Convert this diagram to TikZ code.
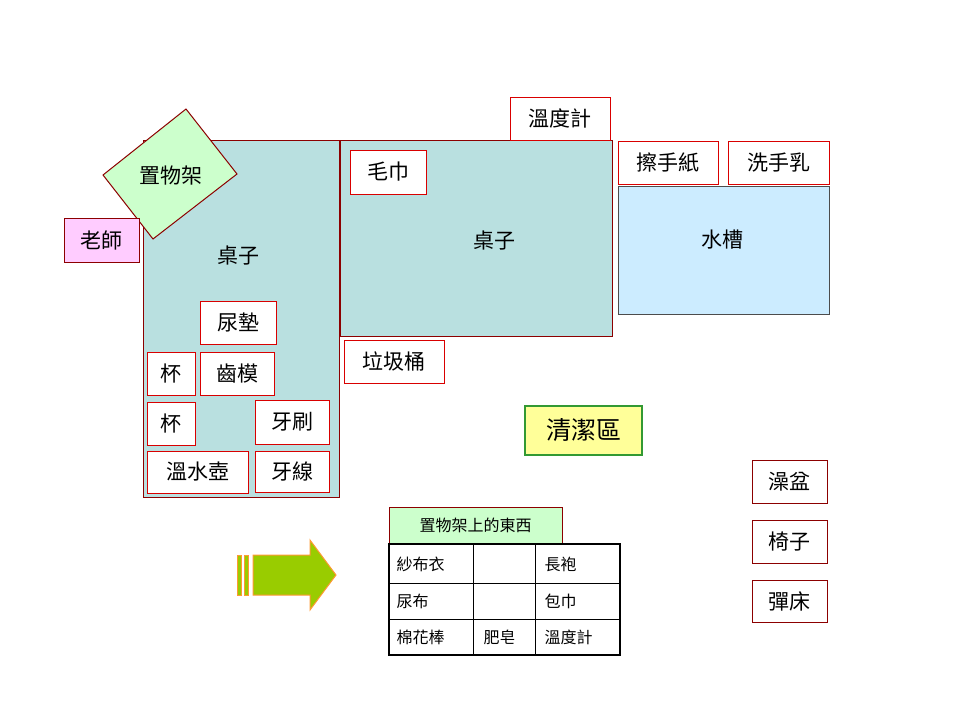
\documentclass[tikz,border=0pt]{standalone}
\usepackage{fontspec}
\setmainfont{Noto Sans CJK TC}[BoldFont={Noto Sans CJK TC Medium}]
\begin{document}
\begin{tikzpicture}[x=1pt,y=-1pt,
  dr/.style={draw=red!55!black,line width=1pt},
  lbl/.style={draw=red!85!black,fill=white,line width=1pt,font=\fontsize{21}{22}\selectfont,inner sep=0pt},
  tx/.style={font=\fontsize{21}{22}\selectfont},
  cell/.style={font=\fontsize{16}{18}\selectfont,anchor=west}]
\useasboundingbox (0,0) rectangle (960,720);
% tables
\draw[dr,fill={rgb,255:red,185;green,224;blue,224}] (143,140) rectangle (339,497);
\draw[dr,fill={rgb,255:red,185;green,224;blue,224}] (340,140) rectangle (612,336);
\node[tx] (t1) at (238,256) {桌子};
\node[tx] (t2) at (494,241) {桌子};
% diamond
\draw[dr,fill={rgb,255:red,204;green,255;blue,204}] (186,109) -- (237,174) -- (153,239) -- (103,175) -- cycle;
\node[tx] (shelf) at (171,176) {置物架};
% teacher
\node[lbl,draw=red!55!black,fill={rgb,255:red,255;green,204;blue,255},minimum width=75pt,minimum height=44pt] (teacher) at (101.5,240) {老師};
% small labels
\node[lbl,minimum width=76pt,minimum height=43pt] (a) at (238,322.5) {尿墊};
\node[lbl,minimum width=48pt,minimum height=43pt] (b) at (171,373.5) {杯};
\node[lbl,minimum width=74pt,minimum height=43pt] (c) at (237,373.5) {齒模};
\node[lbl,minimum width=48pt,minimum height=43pt] (d) at (171,423.5) {杯};
\node[lbl,minimum width=74pt,minimum height=44pt] (e) at (292,422) {牙刷};
\node[lbl,minimum width=101pt,minimum height=42pt] (f) at (197.5,472) {溫水壺};
\node[lbl,minimum width=74pt,minimum height=41pt] (g) at (292,471.5) {牙線};
\node[lbl,minimum width=76pt,minimum height=44pt] (h) at (388,172) {毛巾};
\node[lbl,minimum width=100pt,minimum height=43pt] (i) at (560,118.5) {溫度計};
\node[lbl,minimum width=100pt,minimum height=43pt] (j) at (668,162.5) {擦手紙};
\node[lbl,minimum width=101pt,minimum height=43pt] (k) at (778.5,162.5) {洗手乳};
\node[lbl,minimum width=100pt,minimum height=43pt] (l) at (394,361.5) {垃圾桶};
\node[lbl,draw=red!55!black,minimum width=75pt,minimum height=43pt] (m) at (789.5,481.5) {澡盆};
\node[lbl,draw=red!55!black,minimum width=75pt,minimum height=43pt] (n) at (789.5,541.5) {椅子};
\node[lbl,draw=red!55!black,minimum width=75pt,minimum height=42pt] (o) at (789.5,601) {彈床};
% sink
\node[draw=black!70,line width=0.6pt,fill={rgb,255:red,204;green,236;blue,255},minimum width=211pt,minimum height=128pt,inner sep=0pt] (sink) at (723.5,250) {};
\node[tx] (sinkt) at (722,240) {水槽};
% clean area
\node[draw={rgb,255:red,51;green,153;blue,51},line width=1.2pt,fill={rgb,255:red,255;green,255;blue,153},minimum width=117pt,minimum height=49pt,inner sep=0pt,font=\fontsize{25}{26}\selectfont] (clean) at (583.5,430.5) {清潔區};
% arrow
\draw[draw={rgb,255:red,255;green,153;blue,51},line width=1pt,fill={rgb,255:red,153;green,204;blue,0}]
  (253,555) -- (310,555) -- (310,540) -- (336,575) -- (310,610) -- (310,595) -- (253,595) -- cycle;
\draw[draw={rgb,255:red,255;green,153;blue,51},line width=0.8pt,fill={rgb,255:red,153;green,204;blue,0}] (237,555) rectangle (241,595);
\draw[draw={rgb,255:red,255;green,153;blue,51},line width=0.8pt,fill={rgb,255:red,153;green,204;blue,0}] (244,555) rectangle (248,595);
% shelf items
\node[draw=red!55!black,line width=1pt,fill={rgb,255:red,204;green,255;blue,204},minimum width=173pt,minimum height=36pt,inner sep=0pt,font=\fontsize{16}{17}\selectfont] (title) at (475.5,525) {置物架上的東西};
\draw[line width=2pt] (389,544) rectangle (620,655);
\draw[line width=0.8pt] (389,583) -- (620,583) (389,619) -- (620,619) (473,544) -- (473,655) (535,544) -- (535,655);
\node[cell] (c1) at (393,564) {紗布衣};
\node[cell] (c2) at (541,564) {長袍};
\node[cell] (c3) at (393,601) {尿布};
\node[cell] (c4) at (541,601) {包巾};
\node[cell] (c5) at (393,637) {棉花棒};
\node[cell] (c6) at (480,637) {肥皂};
\node[cell] (c7) at (541,637) {溫度計};
\end{tikzpicture}
\end{document}
